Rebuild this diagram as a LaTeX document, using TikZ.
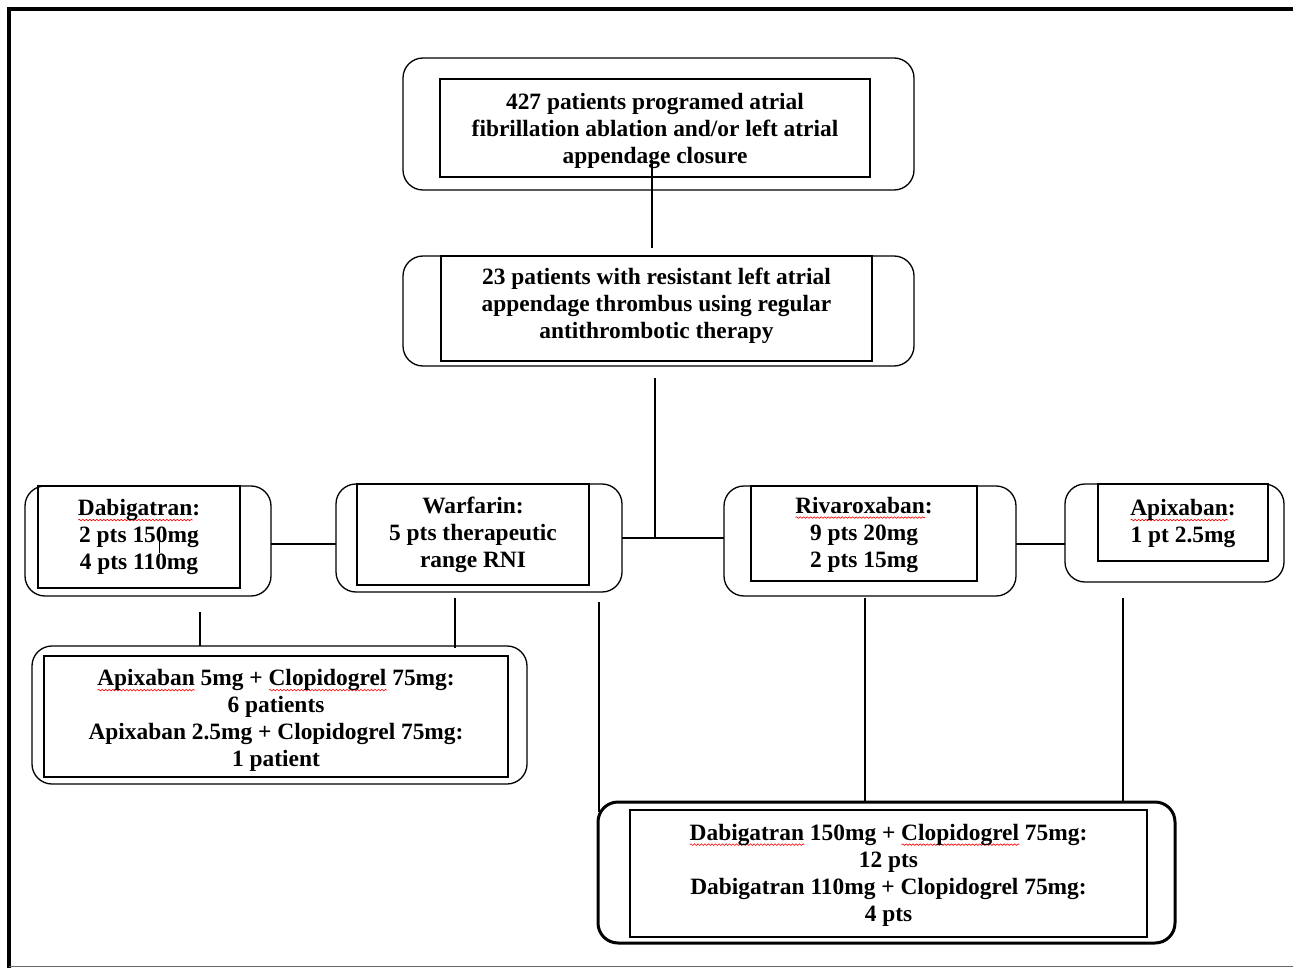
\documentclass[tikz,border=0pt]{standalone}
\usepackage{fontspec}
\setmainfont{Liberation Serif}
\usetikzlibrary{decorations.pathmorphing}
\newsavebox\spwbox
\newcommand\spw[1]{\sbox\spwbox{#1}\rlap{\smash{\tikz[baseline=0pt,x=1pt,y=1pt]\draw[red,line width=0.6pt,decorate,decoration={snake,amplitude=0.8pt,segment length=3.5pt}] (0,-4.5) -- (\wd\spwbox,-4.5);}}\usebox\spwbox}
\tikzset{
  outerbox/.style={draw, rounded corners=20pt, line width=1.3pt, inner sep=0pt, outer sep=0pt},
  innerbox/.style={draw, line width=1.2pt, inner sep=0pt, outer sep=0pt},
  txt/.style={inner sep=0pt, align=center, font=\fontsize{23.4}{27}\selectfont\bfseries},
  link/.style={line width=1.3pt},
  frame/.style={line width=4.5pt},
}
\begin{document}
\begin{tikzpicture}[x=1pt,y=-1pt]
\useasboundingbox (0,0) rectangle (1293,968);
% frame
\draw[frame] (1293,9) -- (9,9) -- (9,968);
\draw[line width=1.5pt, black!60] (9,966.5) -- (1293,966.5);

% top box
\node[outerbox, minimum width=511pt, minimum height=132pt] (top) at (658.5,124) {};
\node[innerbox, minimum width=430pt, minimum height=98pt] (topin) at (655,128) {};
\node[txt] (toptx) at ([yshift=-3pt]topin.center)
  {427 patients programed atrial\\fibrillation ablation and/or left atrial\\appendage closure};

% second box
\node[outerbox, minimum width=511pt, minimum height=110pt] (sec) at (658.5,311) {};
\node[innerbox, minimum width=431pt, minimum height=105pt] (secin) at (656.5,308.5) {};
\node[txt] (sectx) at ([yshift=2.5pt]secin.center)
  {23 patients with resistant left atrial\\appendage thrombus using regular\\antithrombotic therapy};

% Dabigatran
\node[outerbox, minimum width=246pt, minimum height=110pt] (dab) at (148,541) {};
\node[innerbox, minimum width=202pt, minimum height=102pt] (dabin) at (139,537) {};
\node[txt] (dabtx) at (dabin.center) {\spw{Dabigatran}:\\2 pts 150mg\\4 pts 110mg};

% Warfarin
\node[outerbox, minimum width=286pt, minimum height=108pt] (war) at (479,538) {};
\node[innerbox, minimum width=232pt, minimum height=101pt] (warin) at (473,534.5) {};
\node[txt] (wartx) at ([yshift=-0.5pt]warin.center) {Warfarin:\\5 pts therapeutic\\range RNI};

% Rivaroxaban
\node[outerbox, minimum width=292pt, minimum height=110pt] (riv) at (870,541) {};
\node[innerbox, minimum width=226pt, minimum height=95pt] (rivin) at (864,533.5) {};
\node[txt] (rivtx) at ([yshift=-1pt]rivin.center) {\spw{Rivaroxaban}:\\9 pts 20mg\\2 pts 15mg};

% Apixaban
\node[outerbox, minimum width=219pt, minimum height=98pt] (apx) at (1174.5,533) {};
\node[innerbox, minimum width=170pt, minimum height=77pt] (apxin) at (1183,522.5) {};
\node[txt] (apxtx) at ([yshift=-1pt]apxin.center) {\spw{Apixaban}:\\1 pt 2.5mg};

% lower-left
\node[outerbox, minimum width=495pt, minimum height=138pt] (ll) at (279.5,715) {};
\node[innerbox, minimum width=464pt, minimum height=121pt] (llin) at (276,716.5) {};
\node[txt] (lltx) at ([yshift=-4pt]llin.center)
  {\spw{Apixaban} 5mg + \spw{Clopidogrel} 75mg:\\6 patients\\Apixaban 2.5mg + Clopidogrel 75mg:\\1 patient};

% bottom
\node[outerbox, line width=3pt, minimum width=577pt, minimum height=141pt] (bb) at (886.5,872.5) {};
\node[innerbox, minimum width=517pt, minimum height=127pt] (bbin) at (888.5,873.5) {};
\node[txt] (bbtx) at ([yshift=-1.5pt]bbin.center)
  {\spw{Dabigatran} 150mg + \spw{Clopidogrel} 75mg:\\12 pts\\Dabigatran 110mg + Clopidogrel 75mg:\\4 pts};

% connectors
\coordinate (a1) at (652,160);
\coordinate (a2) at (652,248);
\draw[link] (a1) -- (a2);
\coordinate (b1) at (655,378);
\draw[link] (war.east) -- (war.east -| riv.west);
\draw[link] (b1) -- (b1 |- war.east);
\draw[link] ([yshift=-3pt]dab.east) -- ([yshift=-3pt]dab.east -| war.west);
\draw[link] ([yshift=-3pt]riv.east) -- ([yshift=-3pt]riv.east -| apx.west);
\coordinate (d1) at (200,612);
\draw[link] (d1) -- (d1 |- ll.north);
\coordinate (w1) at (455,598);
\coordinate (w4) at (455,648);
\draw[link] (w1) -- (w4);
\coordinate (w2) at (599,602);
\coordinate (w3) at (599,812);
\draw[link] (w2) -- (w3);
\coordinate (r1) at (865,598);
\draw[link] (r1) -- (r1 |- bb.north);
\coordinate (p1) at (1123,598);
\draw[link] (p1) -- (p1 |- bb.north);
\coordinate (s1) at (159,539);
\coordinate (s2) at (159,553);
\draw[line width=1pt] (s1) -- (s2);
\end{tikzpicture}
\end{document}
